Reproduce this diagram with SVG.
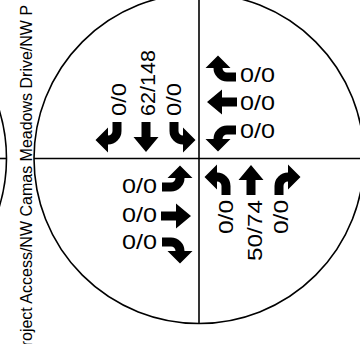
<svg xmlns="http://www.w3.org/2000/svg" width="360" height="344" viewBox="0 0 360 344">
<style>
.ln{fill:none;stroke:#000;stroke-width:1.6}
.ar{fill:#000;stroke:none}
.lb{font-family:"Liberation Sans",Arial,sans-serif;font-size:21px;fill:#000}
.st{font-family:"Liberation Sans",Arial,sans-serif;font-size:16px;fill:#000}
</style>
<defs>
<path id="straight" d="M -4.5 0 V -15 H -12.5 L 0 -30 L 12.5 -15 H 4.5 V 0 Z"/>
<path id="turn" d="M -4.5 0 V -9 A 13.5 13.5 0 0 1 9 -22.5 V -30.5 L 21.5 -18 L 9 -5.5 V -13.5 A 4.5 4.5 0 0 0 4.5 -9 V 0 Z"/>
</defs>
<rect width="360" height="344" fill="#fff"/>
<g id="connectors">
<circle class="ln" cx="-158.5" cy="158.5" r="165"/>
<line class="ln" x1="-10" y1="158.5" x2="6.5" y2="158.5"/>
<circle class="ln" cx="199" cy="158.5" r="165"/>
<line class="ln" x1="199" y1="-7" x2="199" y2="323.5"/>
<line class="ln" x1="34" y1="158.5" x2="364" y2="158.5"/>
</g>
<g id="street-label">
<text class="st" transform="translate(32,357) rotate(-90)">Project Access/NW Camas Meadows Drive/NW P</text>
</g>
<g id="southbound">
<use class="ar" href="#turn" transform="translate(117,122) rotate(180)"/>
<use class="ar" href="#straight" transform="translate(146,122) rotate(180)"/>
<use class="ar" href="#turn" transform="translate(174,122) scale(1,-1)"/>
<text class="lb" transform="translate(126,116) rotate(-90)" textLength="33" lengthAdjust="spacingAndGlyphs">0/0</text>
<text class="lb" transform="translate(155,116) rotate(-90)" textLength="66" lengthAdjust="spacingAndGlyphs">62/148</text>
<text class="lb" transform="translate(181,116) rotate(-90)" textLength="33" lengthAdjust="spacingAndGlyphs">0/0</text>
</g>
<g id="westbound">
<use class="ar" href="#turn" transform="translate(236,77) rotate(-90)"/>
<use class="ar" href="#straight" transform="translate(237,102) rotate(-90)"/>
<use class="ar" href="#turn" transform="translate(236,130) rotate(-90) scale(-1,1)"/>
<text class="lb" x="240" y="82" textLength="35" lengthAdjust="spacingAndGlyphs">0/0</text>
<text class="lb" x="240" y="110" textLength="35" lengthAdjust="spacingAndGlyphs">0/0</text>
<text class="lb" x="240" y="138" textLength="35" lengthAdjust="spacingAndGlyphs">0/0</text>
</g>
<g id="eastbound">
<use class="ar" href="#turn" transform="translate(162,187) rotate(90) scale(-1,1)"/>
<use class="ar" href="#straight" transform="translate(161,216) rotate(90)"/>
<use class="ar" href="#turn" transform="translate(162,242) rotate(90)"/>
<text class="lb" x="122" y="193" textLength="35" lengthAdjust="spacingAndGlyphs">0/0</text>
<text class="lb" x="122" y="222" textLength="35" lengthAdjust="spacingAndGlyphs">0/0</text>
<text class="lb" x="122" y="249" textLength="35" lengthAdjust="spacingAndGlyphs">0/0</text>
</g>
<g id="northbound">
<use class="ar" href="#turn" transform="translate(226,195) scale(-1,1)"/>
<use class="ar" href="#straight" transform="translate(251,195)"/>
<use class="ar" href="#turn" transform="translate(279,195)"/>
<text class="lb" transform="translate(233,234) rotate(-90)" textLength="34" lengthAdjust="spacingAndGlyphs">0/0</text>
<text class="lb" transform="translate(262,261) rotate(-90)" textLength="61" lengthAdjust="spacingAndGlyphs">50/74</text>
<text class="lb" transform="translate(288,234) rotate(-90)" textLength="34" lengthAdjust="spacingAndGlyphs">0/0</text>
</g>
</svg>
